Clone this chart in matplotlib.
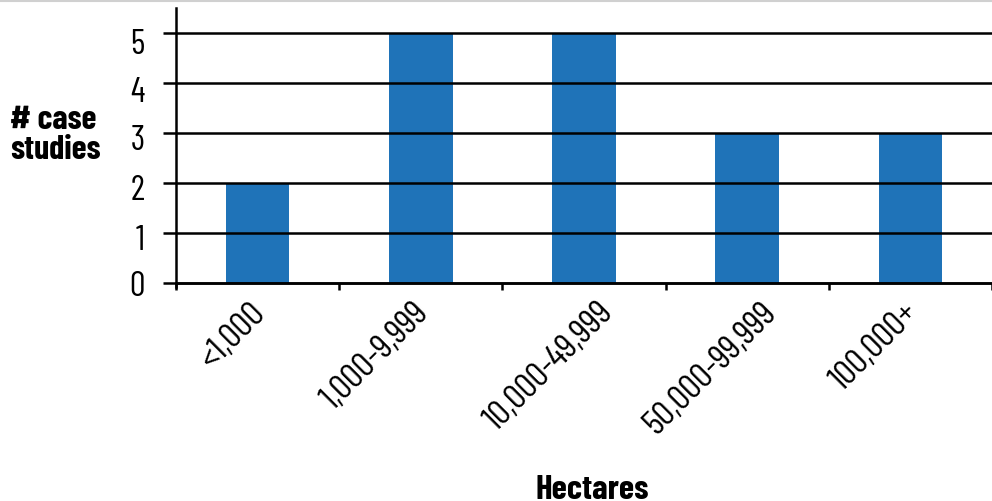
import matplotlib
matplotlib.use('Agg')
import matplotlib.pyplot as plt
from matplotlib.lines import Line2D
from matplotlib.transforms import ScaledTranslation

plt.rcParams['font.family'] = ['Barlow Condensed', 'Liberation Sans Narrow', 'DejaVu Sans']

# data
categories = ['<1,000', '1,000-9,999', '10,000-49,999', '50,000-99,999', '100,000+']
case_studies = [2, 5, 5, 3, 3]
y_ticks = [0, 1, 2, 3, 4, 5]

# small label nudges (pixels) to mimic the original's uneven label placement
xlabel_nudge = [0, 0, 21, 21, 0]
ylabel_nudge = [0, -5, -5, -5, -7, -9]

bar_color = '#1f73b8'
lw = 1.8

fig = plt.figure(figsize=(9.92, 5.01), dpi=100)
ax = fig.add_axes([176 / 992, (501 - 287) / 501, 1 - 176 / 992, (287 - 8) / 501])

x = list(range(len(categories)))
ax.bar(x, case_studies, width=0.39, color=bar_color, zorder=1)

ax.set_xlim(-0.5, 4.45)
ax.set_ylim(-0.08, 5.5)

# spines
for s in ['top', 'right']:
    ax.spines[s].set_visible(False)
ax.spines['left'].set_linewidth(lw)
ax.spines['bottom'].set_linewidth(lw)
ax.spines['bottom'].set_position(('data', 0))
ax.spines['bottom'].set_zorder(3)

# y axis
ax.set_yticks(y_ticks)
ax.tick_params(axis='y', length=9.5, width=lw, pad=13, labelsize=25, color='black')
ax.yaxis.grid(True, color='black', lw=lw, zorder=2)
ax.set_axisbelow(False)
for gl in ax.get_ygridlines():
    gl.set_zorder(2)

# x axis: boundaries as ticks, labels at centers
ax.set_xticks([i - 0.5 for i in range(len(categories) + 1)], minor=True)
ax.tick_params(axis='x', which='minor', length=5, width=lw, color='black')
ax.set_xticks(x)
ax.set_xticklabels(categories, rotation=45, ha='right', va='center',
                   rotation_mode='anchor', fontsize=25.5)
ax.tick_params(axis='x', which='major', length=0, pad=18)

for lab, dx in zip(ax.get_xticklabels(), xlabel_nudge):
    lab.set_transform(lab.get_transform() + ScaledTranslation(dx / 100 + 0.03, 0, fig.dpi_scale_trans))
for lab, dy in zip(ax.get_yticklabels(), ylabel_nudge):
    lab.set_transform(lab.get_transform() + ScaledTranslation(0, dy / 100, fig.dpi_scale_trans))

fig.text(10 / 992, 1 - 135 / 501, '# case\nstudies', ha='left', va='center',
         fontsize=24.5, fontweight='bold', linespacing=1.0)
fig.text(592 / 992, 2 / 501, 'Hectares', ha='center', va='baseline',
         fontsize=25, fontweight='bold')

# thin grey rule at the top
fig.add_artist(Line2D([0, 1], [1 - 1 / 501, 1 - 1 / 501], color='#d0d0d0', lw=1.5,
                      transform=fig.transFigure))

fig.savefig('out.png', dpi=100)
